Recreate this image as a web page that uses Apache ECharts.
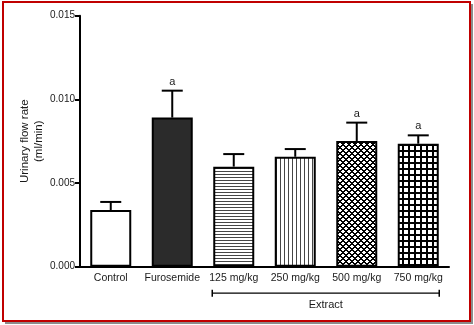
<!DOCTYPE html>
<html>
<head>
<meta charset="utf-8">
<script src="https://cdn.jsdelivr.net/npm/echarts@6/dist/echarts.min.js"></script>
<style>html,body{margin:0;padding:0;background:#fff;}#c{width:474px;height:325px;}</style>
</head>
<body>
<div id="c"></div>
<script>
// ---- data ----
var categories = ['Control', 'Furosemide', '125 mg/kg', '250 mg/kg', '500 mg/kg', '750 mg/kg'];
var means = [0.00339, 0.00891, 0.00598, 0.00657, 0.00751, 0.00735];
var sem = [0.00048, 0.00161, 0.00075, 0.00046, 0.00110, 0.00050];
var significance = ['', 'a', '', '', 'a', 'a'];
var groupLabel = 'Extract';
var groupCategories = ['125 mg/kg', '250 mg/kg', '500 mg/kg', '750 mg/kg'];
var yTicks = [0, 0.005, 0.010, 0.015];
var yTitle = 'Urinary flow rate\n(ml/min)';

// ---- fill patterns ----
function makePattern(w, h, fn) {
  var c = document.createElement('canvas');
  c.width = w; c.height = h;
  var ctx = c.getContext('2d');
  var img = ctx.createImageData(w, h);
  for (var y = 0; y < h; y++) for (var x = 0; x < w; x++) {
    var v = fn(x, y);
    var i = (y * w + x) * 4;
    img.data[i] = v; img.data[i + 1] = v; img.data[i + 2] = v; img.data[i + 3] = 255;
  }
  ctx.putImageData(img, 0, 0);
  return { image: c, repeat: 'repeat' };
}
var fills = [
  '#ffffff',
  '#2b2b2b',
  makePattern(4, 3, function (x, y) { return y === 0 ? 70 : 255; }),
  makePattern(4, 4, function (x, y) { return x === 0 ? 70 : 255; }),
  makePattern(6, 6, function (x, y) { return ((x + y) % 6 < 2 || ((x - y + 6) % 6) < 2) ? 0 : 255; }),
  makePattern(6, 6, function (x, y) { return (x % 6 < 2 || y % 6 < 2) ? 0 : 255; })
];

var FONT = 'Liberation Sans, Arial, sans-serif';
var TXT = '#1a1a1a';

var chart = echarts.init(document.getElementById('c'), null, { renderer: 'canvas' });

var barData = means.map(function (m, i) {
  return { value: m, itemStyle: { color: fills[i] } };
});
var errData = means.map(function (m, i) { return [i, m, m + sem[i], significance[i]]; });

var option = {
  animation: false,
  backgroundColor: '#ffffff',
  grid: { left: 80, right: 25, top: 15.7, bottom: 58.3, containLabel: false, outerBoundsMode: 'none' },
  xAxis: {
    type: 'category',
    data: categories,
    axisLine: { lineStyle: { color: '#000', width: 2 } },
    axisTick: { alignWithLabel: true, length: 5, lineStyle: { color: '#000', width: 2 } },
    axisLabel: { interval: 0, color: TXT, fontFamily: FONT, fontSize: 10.5, margin: 6 },
    splitLine: { show: false }
  },
  yAxis: {
    type: 'value',
    min: yTicks[0], max: yTicks[yTicks.length - 1], interval: yTicks[1] - yTicks[0],
    name: yTitle,
    nameLocation: 'middle',
    nameRotate: 90,
    nameGap: 33.5,
    nameMoveOverlap: false,
    nameTextStyle: { color: TXT, fontFamily: FONT, fontSize: 11.5, lineHeight: 14.5 },
    axisLine: { show: true, lineStyle: { color: '#000', width: 2 } },
    axisTick: { show: true, length: 5, lineStyle: { color: '#000', width: 2 } },
    axisLabel: { color: TXT, fontFamily: FONT, fontSize: 10, margin: 5,
      formatter: function (v) { return v.toFixed(3); } },
    splitLine: { show: false }
  },
  series: [
    {
      type: 'bar',
      data: barData,
      barWidth: 41,
      itemStyle: { borderColor: '#000', borderWidth: 2 },
      z: 2
    },
    {
      type: 'custom',
      data: errData,
      z: 3,
      renderItem: function (params, api) {
        var i = api.value(0);
        var p0 = api.coord([i, api.value(1)]);
        var p1 = api.coord([i, api.value(2)]);
        var half = 10.5;
        var children = [
          { type: 'line', shape: { x1: p0[0], y1: p0[1], x2: p1[0], y2: p1[1] }, style: { stroke: '#000', lineWidth: 2 } },
          { type: 'line', shape: { x1: p1[0] - half, y1: p1[1], x2: p1[0] + half, y2: p1[1] }, style: { stroke: '#000', lineWidth: 2 } }
        ];
        var s = significance[i];
        if (s) {
          children.push({ type: 'text', style: { text: s, x: p1[0], y: p1[1] - 9, align: 'center', verticalAlign: 'middle', fill: TXT, font: '11px ' + FONT } });
        }
        return { type: 'group', children: children };
      }
    }
  ]
};
chart.setOption(option);

// group bracket under the extract categories
var firstIdx = categories.indexOf(groupCategories[0]);
var lastIdx = categories.indexOf(groupCategories[groupCategories.length - 1]);
var xl = chart.convertToPixel({ xAxisIndex: 0 }, firstIdx) - 21.5;
var xr = chart.convertToPixel({ xAxisIndex: 0 }, lastIdx) + 21;
var y0 = chart.convertToPixel({ yAxisIndex: 0 }, 0);
var by = y0 + 26.5;

chart.setOption({
  graphic: [
    { type: 'rect', z: -20, silent: true, shape: { x: 5, y: 4, width: 468, height: 320 }, style: { fill: '#8c8c8c' } },
    { type: 'rect', z: -10, silent: true, shape: { x: 3, y: 2, width: 467, height: 319 }, style: { fill: '#ffffff', stroke: '#c00000', lineWidth: 2 } },
    { type: 'line', silent: true, shape: { x1: xl, y1: by, x2: xr, y2: by }, style: { stroke: '#000', lineWidth: 1.2 } },
    { type: 'line', silent: true, shape: { x1: xl, y1: by - 3.5, x2: xl, y2: by + 3.5 }, style: { stroke: '#000', lineWidth: 1.5 } },
    { type: 'line', silent: true, shape: { x1: xr, y1: by - 3.5, x2: xr, y2: by + 3.5 }, style: { stroke: '#000', lineWidth: 1.5 } },
    { type: 'text', silent: true, style: { text: groupLabel, x: (xl + xr) / 2, y: by + 11.5, align: 'center', verticalAlign: 'middle', fill: TXT, font: '11px ' + FONT } }
  ]
});
</script>
</body>
</html>
